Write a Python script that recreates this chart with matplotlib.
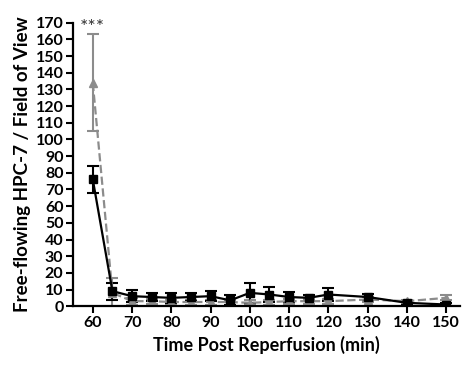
import matplotlib.pyplot as plt

plt.rcParams['font.family'] = ['Lato', 'DejaVu Sans']

time = [60, 65, 70, 75, 80, 85, 90, 95, 100, 105, 110, 115, 120, 130, 140, 150]
black_mean = [76, 9, 6, 5.5, 5, 5.5, 6, 3.5, 8, 7, 5.5, 5, 7, 5.5, 2, 1]
black_err = [8, 5, 3.5, 2.5, 3, 2.5, 3, 3, 6, 4.5, 3, 2, 4, 2, 1, 1]
gray_mean = [134, 8, 3, 3, 2.5, 2.5, 2.5, 2.5, 2, 2.5, 3, 3, 3, 4, 3, 5]
gray_err = [29, 9, 2, 1.5, 1.5, 1.5, 1.5, 1.5, 1.5, 1.5, 1.5, 1.5, 1.5, 1.5, 1, 1.5]

fig = plt.figure(figsize=(4.66, 3.68), dpi=100)
ax = fig.add_axes([0.157, 0.168, 0.83, 0.77])

ax.errorbar(time, gray_mean, yerr=gray_err, color='0.55', ls='--', lw=1.6,
            marker='^', ms=6, capsize=4, capthick=1.5, elinewidth=1.5)
ax.errorbar(time, black_mean, yerr=black_err, color='black', ls='-', lw=1.6,
            marker='s', ms=6, capsize=4, capthick=1.5, elinewidth=1.5)
ax.text(60, 162, '***', ha='center', va='bottom', fontsize=14, color='0.2')

ax.set_xlim(55, 153.5)
ax.set_ylim(0, 170)
ax.set_xticks([60, 70, 80, 90, 100, 110, 120, 130, 140, 150])
ax.set_yticks(range(0, 171, 10))
for s in ['top', 'right']:
    ax.spines[s].set_visible(False)
for s in ['left', 'bottom']:
    ax.spines[s].set_linewidth(1.6)
ax.tick_params(width=1.5, length=5, labelsize=11.5, pad=2)
for lab in ax.get_xticklabels() + ax.get_yticklabels():
    lab.set_fontweight('bold')
ax.set_xlabel('Time Post Reperfusion (min)', fontsize=13, fontweight='bold')
ax.set_ylabel('Free-flowing HPC-7 / Field of View', fontsize=13.5, fontweight='bold',
              labelpad=3)

fig.savefig('out.png')
